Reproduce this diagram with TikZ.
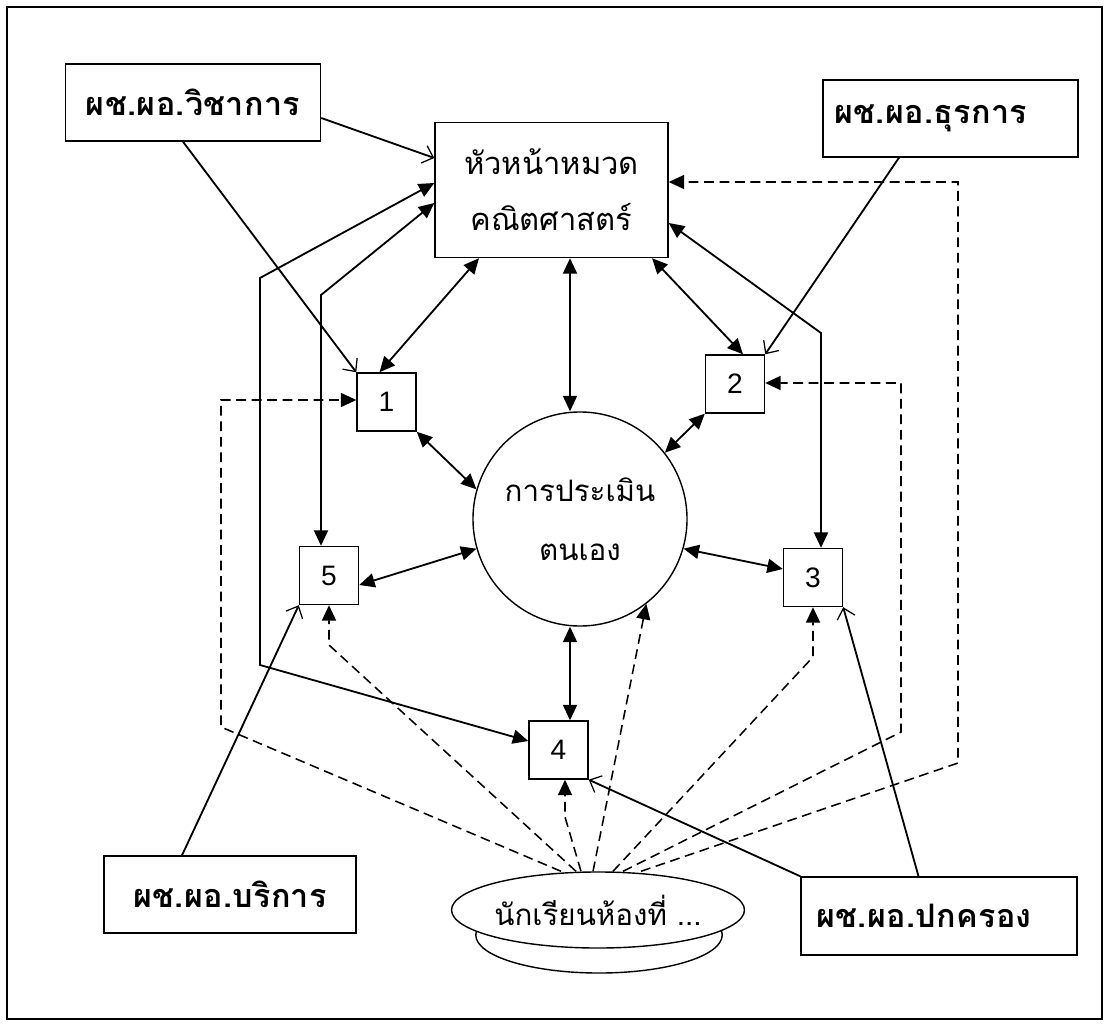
\documentclass[tikz,border=0pt]{standalone}
\usepackage{fontspec}
\setmainfont{Liberation Sans}
\newfontfamily\thai[Script=Thai]{Loma}
\newfontfamily\thaib[Script=Thai,LetterSpace=1]{Loma}
\usetikzlibrary{arrows.meta,calc,shapes.geometric}
\tikzset{
  box/.style={draw, line width=1pt, inner sep=0pt, align=center},
  numbox/.style={box, minimum width=1.475cm, minimum height=1.45cm, font=\fontsize{20}{22}\selectfont},
  rolebox/.style={box, minimum height=1.925cm, font=\thaib\bfseries\fontsize{23}{26}\selectfont},
  conn/.style={line width=1.3pt},
  both/.style={conn, {Triangle[length=11pt,width=10pt]}-{Triangle[length=11pt,width=10pt]}},
  openarr/.style={conn, -{Straight Barb[length=7pt,width=13pt,line width=0.9pt]}},
  dashconn/.style={line width=1.1pt, dash pattern=on 7pt off 4pt, -{Triangle[length=11pt,width=10pt]}}
}
\newcommand{\dg}[1]{\raisebox{-0.2cm}{#1}}
\begin{document}
\begin{tikzpicture}[x=0.025cm,y=-0.025cm]
\useasboundingbox (0,0) rectangle (1109,1029);
\draw[line width=1.4pt] (7,7) rectangle (1102,1019);

% nodes
\node[rolebox, minimum width=6.375cm] (vicha) at (193,102.5) {ผช.ผอ.วิชาการ};
\node[box, minimum width=5.825cm, minimum height=3.375cm, font=\thai\fontsize{22}{40}\selectfont] (head) at (551.5,190) {หัวหน้าหมวด\\คณิตศาสตร์};
\node[rolebox, minimum width=6.375cm] (thura) at (950.5,118.5) {ผช.ผอ.ธุรการ\hspace*{1cm}};
\node[rolebox, minimum width=6.3cm] (borikan) at (230,894.5) {ผช.ผอ.บริการ};
\node[rolebox, minimum width=6.9cm, minimum height=1.95cm] (pok) at (939,916) {ผช.ผอ.ปกครอง\hspace*{0.75cm}};

\node[numbox] (box1) at (386.5,402) {\dg{1}};
\node[numbox] (box2) at (735,384) {\dg{2}};
\node[numbox] (box3) at (813,577.5) {\dg{3}};
\node[numbox] (box4) at (558.5,750) {\dg{4}};
\node[numbox] (box5) at (329,575.5) {\dg{5}};

\node[circle, draw, line width=1pt, minimum size=5.35cm, inner sep=0pt, align=center,
      font=\thai\fontsize{21}{42}\selectfont] (circ) at (580,519) {การประเมิน\\ตนเอง};

\draw[line width=1pt, fill=white] (599,935) ellipse [x radius=3.08cm, y radius=0.95cm];
\node[ellipse, draw, line width=1pt, fill=white, minimum width=6.3cm, minimum height=1.9cm, inner sep=0pt,
      font=\thai\fontsize{21}{24}\selectfont] (disc) at (598,910) {นักเรียนห้องที่ ...};

% waypoints
\coordinate (pa) at (260,278);
\coordinate (pb) at (260,665);
\coordinate (qa) at (321,295);
\coordinate (ra) at (821,333);
\coordinate (dh1) at (958,763);
\coordinate (dh2) at (958,182);
\coordinate (d21) at (901,732);
\coordinate (d22) at (901,383);
\coordinate (d11) at (221,727);
\coordinate (d12) at (221,400);
\coordinate (d51) at (329,645);
\coordinate (d41) at (565,817);
\coordinate (d31) at (813,657);

% solid connectors
\draw[openarr] ($(vicha.east)+(0,15.5)$) -- ($(head.west)+(0,-32)$);
\draw[openarr] ($(vicha.south)+(-10,0)$) -- (box1.north west);
\draw[both] ($(head.west)+(0,-7)$) -- (pa) -- (pb) -- ($(box4.west)+(0,-9)$);
\draw[both] ($(head.west)+(0,13)$) -- (qa) -- ($(box5.north)+(-8,0)$);
\draw[both] ($(head.south)+(-72.5,0)$) -- ($(box1.north)+(-7,0)$);
\draw[both] ($(head.south)+(18.5,0)$) -- ($(circ.north)+(-10,0)$);
\draw[both] ($(head.south)+(100.5,0)$) -- ($(box2.north)+(8,0)$);
\draw[both] ($(head.east)+(0,33)$) -- (ra) -- ($(box3.north)+(8,0)$);
\draw[openarr] ($(thura.south)+(-51.5,0)$) -- (box2.north east);
\draw[both] (box1.south east) -- (circ.164);
\draw[both] (box2.south west) -- (circ.38);
\draw[both] ($(box5.east)+(0,9.5)$) -- (circ.196);
\draw[both] (circ.-16) -- ($(box3.west)+(0,-8.5)$);
\draw[both] ($(circ.south)+(-10,0)$) -- ($(box4.north)+(11.5,0)$);
\draw[openarr] ($(borikan.north)+(-48,0)$) -- (box5.south west);
\draw[openarr] (pok.north west) -- (box4.south east);
\draw[openarr] ($(pok.north)+(-20.5,0)$) -- (box3.south east);

% dashed connectors from the students
\draw[dashconn] ($(disc.north)+(43,0)$) -- (dh1) -- (dh2) -- ($(head.east)+(0,-8)$);
\draw[dashconn] ($(disc.north)+(25,0)$) -- (d21) -- (d22) -- ($(box2.east)+(0,-1)$);
\draw[dashconn] ($(disc.north)+(-37,0)$) -- (d11) -- (d12) -- ($(box1.west)+(0,-2)$);
\draw[dashconn] ($(disc.north)+(-22,0)$) -- (d51) -- (box5.south);
\draw[dashconn] ($(disc.north)+(-17,0)$) -- (d41) -- ($(box4.south)+(6.5,0)$);
\draw[dashconn] ($(disc.north)+(-5,0)$) -- (circ.-52);
\draw[dashconn] ($(disc.north)+(15,0)$) -- (d31) -- (box3.south);
\end{tikzpicture}
\end{document}
